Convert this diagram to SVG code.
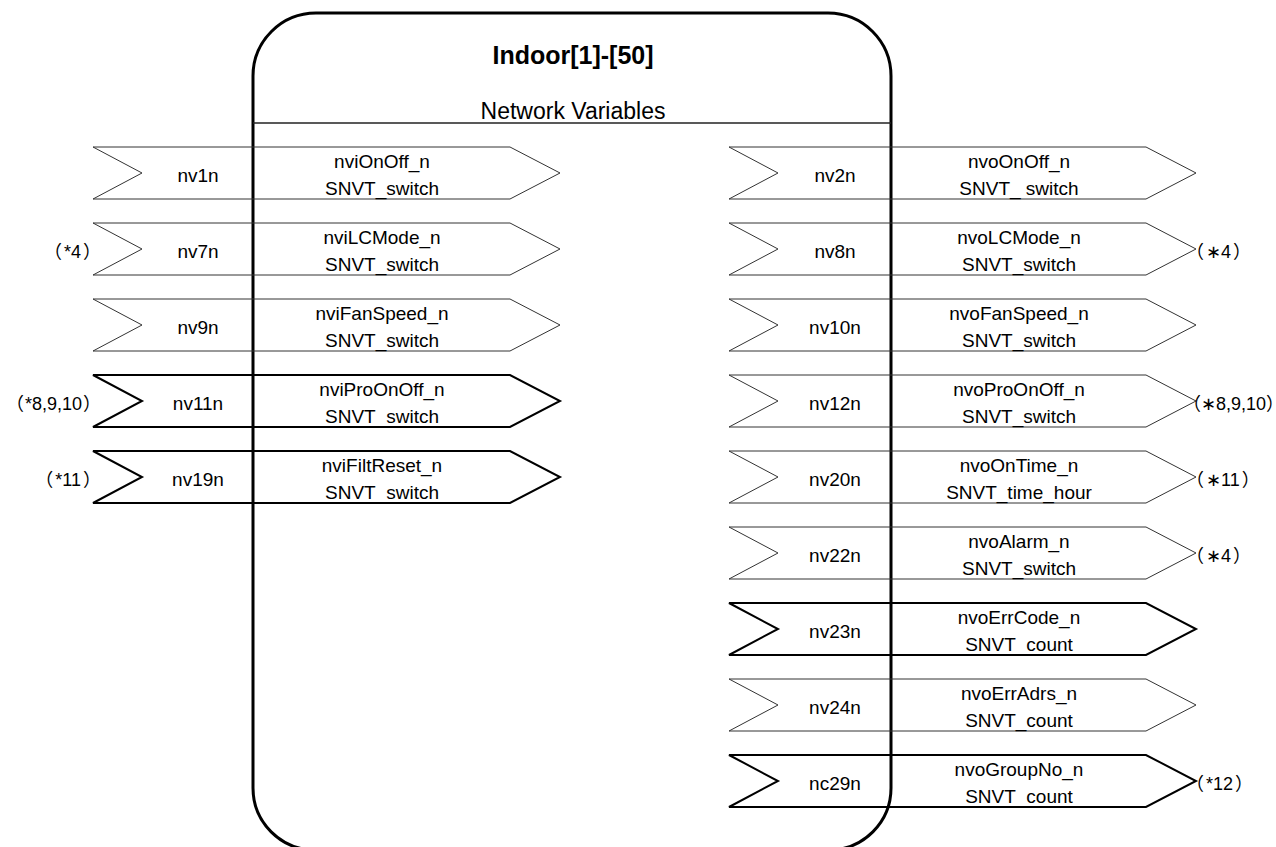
<svg xmlns="http://www.w3.org/2000/svg" xmlns:xlink="http://www.w3.org/1999/xlink" width="1276" height="847" viewBox="0 0 1276 847">
<style>
text{font-family:"Liberation Sans",Arial,"Noto Sans CJK JP",sans-serif;fill:#000}
.t{font-size:19px;text-anchor:middle}
.ann{font-size:18px}
.p{font-family:"Noto Sans CJK JP",sans-serif}
.e{letter-spacing:-9px}
.l{text-anchor:end}
.title{font-size:25px;font-weight:bold;text-anchor:middle}
.sub{font-size:23px;text-anchor:middle}
.thin{fill:none;stroke:#333;stroke-width:1}
.thick{fill:none;stroke:#000;stroke-width:2}
.box{fill:none;stroke:#000;stroke-width:3}
</style>
<defs>
<polygon id="arr" points="0,0 417,0 467,26 417,52 0,52 49,26"/>
</defs>
<rect width="1276" height="847" fill="#fff"/>
<g id="indoor">
<path class="box" d="M253,76 A63,63 0 0 1 316,13 L828,13 A63,63 0 0 1 891,76 L891,788 A62,62 0 0 1 829,850 L315,850 A62,62 0 0 1 253,788 Z"/>
<line x1="253" y1="123" x2="891" y2="123" stroke="#222" stroke-width="1.5"/>
<text class="title" x="573" y="64">Indoor[1]-[50]</text>
<text class="sub" x="573" y="119">Network Variables</text>
</g>
<g id="inputs">
<g id="nv1n"><use xlink:href="#arr" x="93" y="147" class="thin"/><text class="t" x="198" y="182">nv1n</text><text class="t" x="382" y="168">nviOnOff_n</text><text class="t" x="382" y="195">SNVT_switch</text></g>
<g id="nv7n"><use xlink:href="#arr" x="93" y="223" class="thin"/><text class="t" x="198" y="258">nv7n</text><text class="t" x="382" y="244">nviLCMode_n</text><text class="t" x="382" y="271">SNVT_switch</text><text class="ann l" x="92" y="258"><tspan class="p">（</tspan><tspan dx="2">*4</tspan><tspan class="p e" dx="2">）</tspan></text></g>
<g id="nv9n"><use xlink:href="#arr" x="93" y="299" class="thin"/><text class="t" x="198" y="334">nv9n</text><text class="t" x="382" y="320">nviFanSpeed_n</text><text class="t" x="382" y="347">SNVT_switch</text></g>
<g id="nv11n"><use xlink:href="#arr" x="93" y="375" class="thick"/><text class="t" x="198" y="410">nv11n</text><text class="t" x="382" y="396">nviProOnOff_n</text><text class="t" x="382" y="423">SNVT_switch</text><text class="ann l" x="92" y="410"><tspan class="p">（</tspan><tspan dx="1">*8,9,10</tspan><tspan class="p e" dx="1">）</tspan></text></g>
<g id="nv19n"><use xlink:href="#arr" x="93" y="451" class="thick"/><text class="t" x="198" y="486">nv19n</text><text class="t" x="382" y="472">nviFiltReset_n</text><text class="t" x="382" y="499">SNVT_switch</text><text class="ann l" x="92" y="486"><tspan class="p">（</tspan><tspan dx="2">*11</tspan><tspan class="p e" dx="2">）</tspan></text></g>
</g>
<g id="outputs">
<g id="nv2n"><use xlink:href="#arr" x="729" y="147" class="thin"/><text class="t" x="835" y="182">nv2n</text><text class="t" x="1019" y="168">nvoOnOff_n</text><text class="t" x="1019" y="195">SNVT_ switch</text></g>
<g id="nv8n"><use xlink:href="#arr" x="729" y="223" class="thin"/><text class="t" x="835" y="258">nv8n</text><text class="t" x="1019" y="244">nvoLCMode_n</text><text class="t" x="1019" y="271">SNVT_switch</text><text class="ann" x="1186" y="258"><tspan class="p">（</tspan><tspan dx="2">∗4</tspan><tspan class="p e" dx="2">）</tspan></text></g>
<g id="nv10n"><use xlink:href="#arr" x="729" y="299" class="thin"/><text class="t" x="835" y="334">nv10n</text><text class="t" x="1019" y="320">nvoFanSpeed_n</text><text class="t" x="1019" y="347">SNVT_switch</text></g>
<g id="nv12n"><use xlink:href="#arr" x="729" y="375" class="thin"/><text class="t" x="835" y="410">nv12n</text><text class="t" x="1019" y="396">nvoProOnOff_n</text><text class="t" x="1019" y="423">SNVT_switch</text><text class="ann" x="1183" y="410"><tspan class="p">（</tspan>∗8,9,10<tspan class="p e">）</tspan></text></g>
<g id="nv20n"><use xlink:href="#arr" x="729" y="451" class="thin"/><text class="t" x="835" y="486">nv20n</text><text class="t" x="1019" y="472">nvoOnTime_n</text><text class="t" x="1019" y="499">SNVT_time_hour</text><text class="ann" x="1186" y="486"><tspan class="p">（</tspan><tspan dx="2">∗11</tspan><tspan class="p e" dx="2">）</tspan></text></g>
<g id="nv22n"><use xlink:href="#arr" x="729" y="527" class="thin"/><text class="t" x="835" y="562">nv22n</text><text class="t" x="1019" y="548">nvoAlarm_n</text><text class="t" x="1019" y="575">SNVT_switch</text><text class="ann" x="1186" y="562"><tspan class="p">（</tspan><tspan dx="2">∗4</tspan><tspan class="p e" dx="2">）</tspan></text></g>
<g id="nv23n"><use xlink:href="#arr" x="729" y="603" class="thick"/><text class="t" x="835" y="638">nv23n</text><text class="t" x="1019" y="624">nvoErrCode_n</text><text class="t" x="1019" y="651">SNVT_count</text></g>
<g id="nv24n"><use xlink:href="#arr" x="729" y="679" class="thin"/><text class="t" x="835" y="714">nv24n</text><text class="t" x="1019" y="700">nvoErrAdrs_n</text><text class="t" x="1019" y="727">SNVT_count</text></g>
<g id="nc29n"><use xlink:href="#arr" x="729" y="755" class="thick"/><text class="t" x="835" y="790">nc29n</text><text class="t" x="1019" y="776">nvoGroupNo_n</text><text class="t" x="1019" y="803">SNVT_count</text><text class="ann" x="1186" y="790"><tspan class="p">（</tspan><tspan dx="2">*12</tspan><tspan class="p e" dx="2">）</tspan></text></g>
</g>
<g id="connectors"></g>
</svg>
